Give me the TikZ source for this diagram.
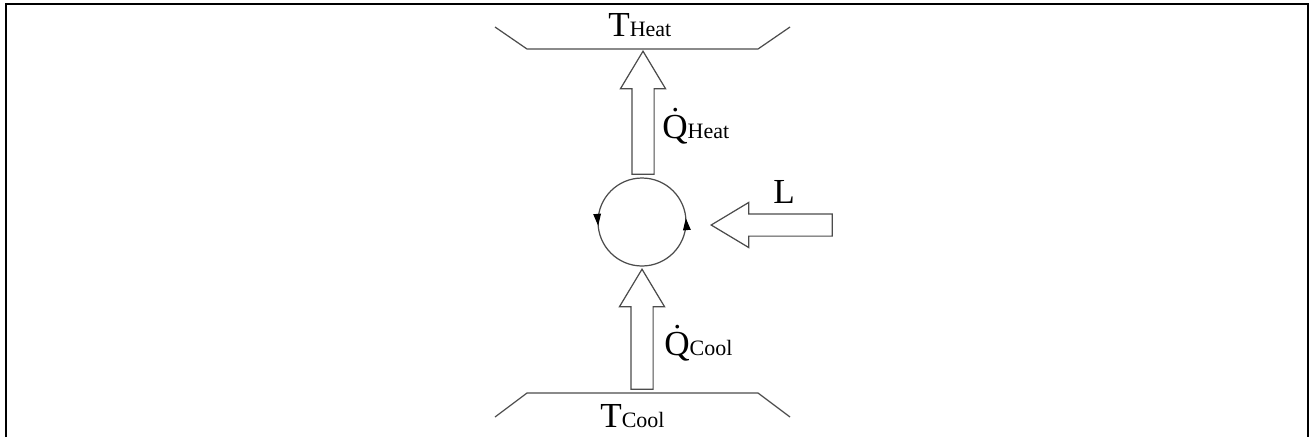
\documentclass[tikz,border=0pt]{standalone}
\usepackage{fontspec}
\setmainfont{Liberation Serif}
\usepackage{tikz}
\usetikzlibrary{arrows.meta,positioning,shapes.arrows,decorations.markings}

\newcommand{\sml}[1]{{\fontsize{12.5}{14}\selectfont #1}}
\tikzset{
  wall/.style={black!70, line width=0.7pt},
  fatarrow/.style={single arrow, draw=black!70, line width=0.7pt, fill=white,
    inner xsep=0pt, inner ysep=0.21cm, single arrow head extend=0.23cm,
    single arrow tip angle=62},
  big/.style={anchor=base west, inner sep=0pt, font=\fontsize{20}{24}\selectfont},
  loopmark/.style={decoration={markings,
    mark=at position 0.014 with {\arrow[black]{Triangle[length=2.4mm,width=1.5mm]}},
    mark=at position 0.514 with {\arrow[black]{Triangle[length=2.4mm,width=1.5mm]}}}}
}

\begin{document}
\begin{tikzpicture}[x=0.02cm,y=-0.02cm]
\useasboundingbox (0,0) rectangle (1310,437);
\draw[line width=1.1pt] (6,437) -- (6,4) -- (1308,4) -- (1308,437);

% the two reservoirs
\foreach \y/\s in {49/-22, 393/24} {
    \draw[wall] (495,\y+\s) -- (527,\y) -- (758,\y) -- (790,\y+\s);
}
\node[big] (theat) at (608,36) {T\sml{Heat}};
\node[big] (tcool) at (600,427) {T\sml{Cool}};

% the cycle
\node[circle, draw=black!70, line width=0.7pt, minimum size=1.76cm, inner sep=0pt,
  loopmark, postaction={decorate}] (cycle) at (642,222) {};

% heat and work flows
\node[fatarrow, rotate=90, anchor=tip, minimum height=2.46cm] (qheatarrow) at (643,50) {};
\node[fatarrow, rotate=90, anchor=tip, minimum height=2.40cm] (qcoolarrow) at (642,268) {};
\node[fatarrow, rotate=180, anchor=tip, minimum height=2.42cm] (workarrow) at (710,225) {};

\node[big] (qheat) at (662,138) {\.{Q}\sml{Heat}};
\node[big] (qcool) at (664,355) {\.{Q}\sml{Cool}};
\node[big] (work) at (773,203) {L};
\end{tikzpicture}
\end{document}
